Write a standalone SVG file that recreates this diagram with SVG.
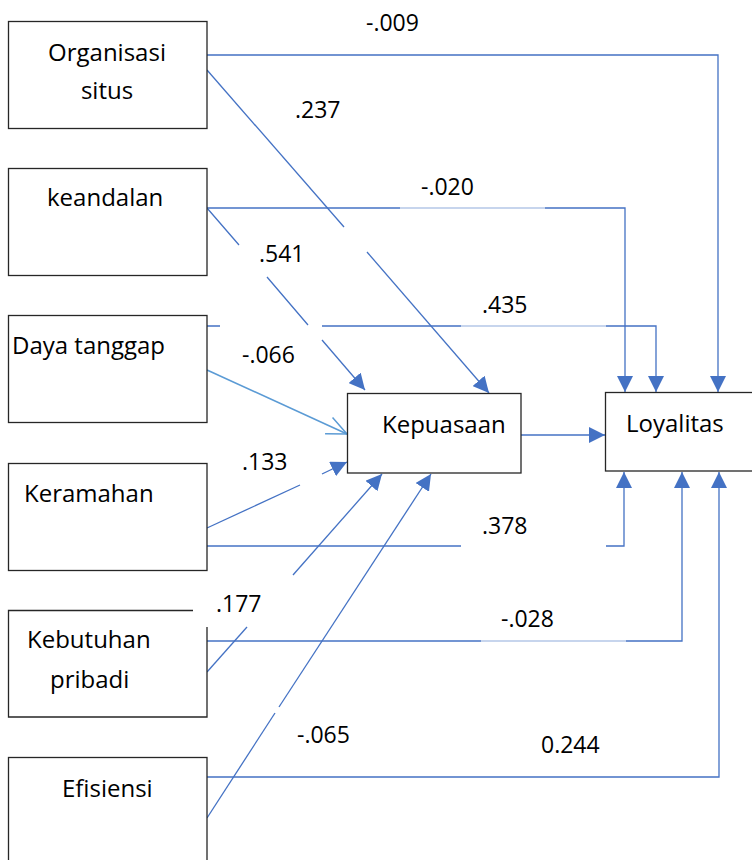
<svg xmlns="http://www.w3.org/2000/svg" width="752" height="860" viewBox="0 0 752 860">
<style>
.box{fill:#fff;stroke:#262626;stroke-width:1.3}
.nt{font-family:"Open Sans","Noto Sans","Liberation Sans",sans-serif;font-size:24px;fill:#000}
.lb{font-family:"Open Sans","Noto Sans","Liberation Sans",sans-serif;font-size:23px;fill:#000}
.c{fill:none;stroke:#4472C4;stroke-width:1.3}
.cl{fill:none;stroke:#B4C7E7;stroke-width:1.3}
.ca{fill:none;stroke:#4472C4;stroke-width:1.3;marker-end:url(#ah)}
</style>
<defs>
<marker id="ah" markerUnits="userSpaceOnUse" markerWidth="16" markerHeight="16" viewBox="0 0 14 14" refX="14" refY="7" orient="auto">
<path d="M0,0 L14,7 L0,14 z" fill="#4472C4"/>
</marker>
<marker id="oa" markerUnits="userSpaceOnUse" markerWidth="24" markerHeight="24" viewBox="-2 -12 24 24" refX="20" refY="0" orient="auto">
<path d="M0,-9 L20,0 L0,9" fill="none" stroke="#5B9BD5" stroke-width="1.5"/>
</marker>
</defs>
<rect width="752" height="860" fill="#fff"/>

<g id="connectors">
<path class="ca" d="M207,55 H718 V392"/>
<path class="c" d="M207,70 L344,227"/>
<path class="ca" d="M367,252 L489,393"/>
<path class="c" d="M207,208 H400"/>
<path class="cl" d="M400,208 H545"/>
<path class="ca" d="M545,208 H625 V392"/>
<path class="c" d="M207,208 L239,245 M267,277 L308,325"/>
<path class="ca" d="M322,340 L365,390"/>
<path class="c" d="M207,326 H220 M322,326 H461"/>
<path class="cl" d="M461,326 H606"/>
<path class="ca" d="M606,326 H656 V392"/>
<path d="M207,370 L347,434" fill="none" stroke="#5B9BD5" stroke-width="1.6" marker-end="url(#oa)"/>
<path class="c" d="M207,528 L300,485"/>
<path class="ca" d="M322,474 L347,462"/>
<path class="c" d="M207,546 H461"/>
<path class="ca" d="M606,546 H624 V472"/>
<path class="c" d="M207,672 L247,627"/>
<path class="ca" d="M293,575 L382,474"/>
<path class="c" d="M207,641 H481"/>
<path class="cl" d="M481,641 H626"/>
<path class="ca" d="M626,641 H682 V472"/>
<path class="c" d="M207,818 L275,713"/>
<path class="ca" d="M279,707 L431,474"/>
<path class="ca" d="M207,777 H719 V472"/>
<path class="ca" d="M521,435 H605"/>
</g>

<g id="labels">
<text class="lb" x="366" y="31">-.009</text>
<text class="lb" x="295" y="118">.237</text>
<text class="lb" x="421" y="195">-.020</text>
<text class="lb" x="259" y="262">.541</text>
<text class="lb" x="482" y="313">.435</text>
<text class="lb" x="242" y="363">-.066</text>
<text class="lb" x="242" y="470">.133</text>
<text class="lb" x="482" y="534">.378</text>
<text class="lb" x="216" y="612">.177</text>
<text class="lb" x="501" y="627">-.028</text>
<text class="lb" x="297" y="743">-.065</text>
<text class="lb" x="541" y="753">0.244</text>
</g>

<g id="organisasi-situs">
<rect class="box" x="8.5" y="21.5" width="198.5" height="107"/>
<text class="nt" x="107" y="61" text-anchor="middle">Organisasi</text>
<text class="nt" x="107" y="99" text-anchor="middle">situs</text>
</g>
<g id="keandalan">
<rect class="box" x="8.5" y="168.5" width="198.5" height="107"/>
<text class="nt" x="47" y="206">keandalan</text>
</g>
<g id="daya-tanggap">
<rect class="box" x="8.5" y="315.5" width="198.5" height="107"/>
<text class="nt" x="12" y="354">Daya tanggap</text>
</g>
<g id="keramahan">
<rect class="box" x="8.5" y="463.5" width="198.5" height="107"/>
<text class="nt" x="24" y="502">Keramahan</text>
</g>
<g id="kebutuhan-pribadi">
<path d="M193,610.5 H8.5 V717 H207 V627" fill="#fff" stroke="#262626" stroke-width="1.3"/>
<text class="nt" x="27" y="648">Kebutuhan</text>
<text class="nt" x="50" y="688">pribadi</text>
</g>
<g id="efisiensi">
<rect class="box" x="8.5" y="757.5" width="198.5" height="130"/>
<text class="nt" x="62" y="797">Efisiensi</text>
</g>
<g id="kepuasaan">
<rect class="box" x="347.5" y="393.5" width="173.5" height="79.5"/>
<text class="nt" x="382" y="433">Kepuasaan</text>
</g>
<g id="loyalitas">
<rect class="box" x="605.5" y="392.5" width="170" height="78.5"/>
<text class="nt" x="626" y="432">Loyalitas</text>
</g>
</svg>
